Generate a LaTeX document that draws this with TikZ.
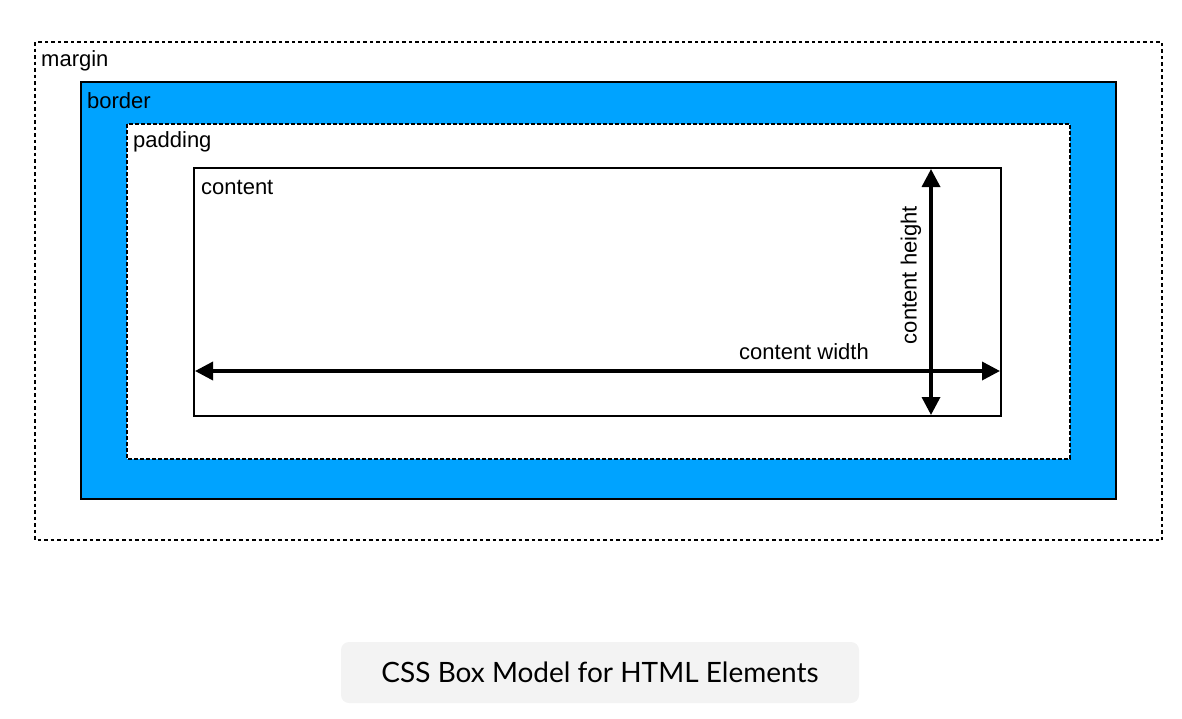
\documentclass[tikz,border=0pt]{standalone}
\usepackage{fontspec}
\setmainfont{Liberation Sans}
\newfontfamily\capfont{Lato}
\usetikzlibrary{arrows.meta}
\definecolor{borderblue}{RGB}{0,163,255}
\definecolor{capgray}{RGB}{243,243,243}
\tikzset{
  lbl/.style={font=\fontsize{22}{26}\selectfont, anchor=west, inner sep=0pt},
  dimarrow/.style={line width=3.5pt, {Triangle[length=18pt,width=18pt]}-{Triangle[length=18pt,width=18pt]}},
}
\begin{document}
\begin{tikzpicture}[x=1pt,y=-1pt]
\useasboundingbox (0,0) rectangle (1182,718);
% margin
\draw[line width=2.8pt, dash pattern=on 3.5pt off 3pt] (35,42) rectangle (1162,540);
\node[lbl] (marginlbl) at (41,61) {margin};
% border
\draw[line width=2pt, fill=borderblue] (81,82) rectangle (1116,499);
\node[lbl] (borderlbl) at (87,101) {border};
% padding
\draw[line width=2.4pt, fill=white, dash pattern=on 4pt off 2pt] (127,124) rectangle (1070,459);
\node[lbl] (paddinglbl) at (133,142) {padding};
% content
\draw[line width=1.6pt] (194,168) rectangle (1001,416);
\node[lbl] (contentlbl) at (201,187) {content};
\coordinate (wl) at (195,371);
\coordinate (wr) at (1000,371);
\coordinate (ht) at (931,169);
\coordinate (hb) at (931,415);
\draw[dimarrow] (wl) -- (wr);
\draw[dimarrow] (ht) -- (hb);
\node[font=\fontsize{22}{26}\selectfont, inner sep=0pt] (cw) at (804,352) {content width};
\node[font=\fontsize{22}{26}\selectfont, inner sep=0pt, rotate=90] (ch) at (911,275) {content height};
% caption
\node[fill=capgray, rounded corners=8pt, minimum width=518pt, minimum height=61pt, inner sep=0pt,
      font=\capfont\fontsize{28}{32}\selectfont] (cap) at (600,672.5) {CSS Box Model for HTML Elements};
\end{tikzpicture}
\end{document}
